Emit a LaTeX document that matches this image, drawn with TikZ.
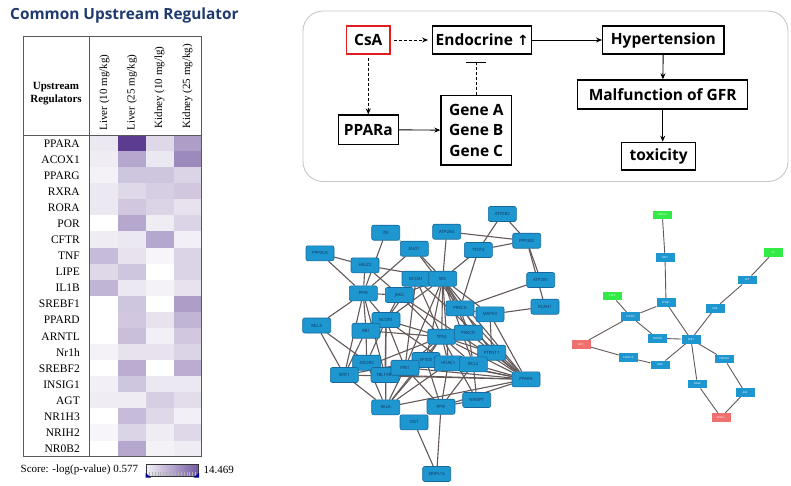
\documentclass[tikz,border=0pt]{standalone}
\usepackage{fontspec}
\setmainfont{Liberation Serif}
\newfontfamily\flowfont{Open Sans}
\newfontfamily\symfont{DejaVu Sans}
\usetikzlibrary{arrows.meta}
\pgfdeclarelayer{background}
\pgfsetlayers{background,main}
\definecolor{hmp}{RGB}{92,60,145}
\definecolor{titleblue}{RGB}{31,58,110}
\definecolor{nfill}{RGB}{30,150,208}
\definecolor{nborder}{RGB}{22,105,155}
\definecolor{ntext}{RGB}{20,50,90}
\definecolor{edgec}{RGB}{100,88,88}
\definecolor{gnode}{RGB}{50,235,70}
\definecolor{rnode}{RGB}{240,112,112}
\definecolor{csared}{RGB}{225,30,30}
\tikzset{
  rowlab/.style={anchor=east, inner sep=0, font=\fontsize{11.5}{12}\selectfont},
  collab/.style={rotate=90, anchor=west, inner sep=0, font=\fontsize{11}{12}\selectfont},
  flowbox/.style={draw, line width=1.3pt, inner sep=0, align=center, font=\flowfont\bfseries\fontsize{15.5}{20.3}\selectfont},
  flowarrow/.style={line width=0.9pt, -{Stealth[length=6pt,width=5pt]}},
  bn/.style={draw=nborder, fill=nfill, line width=0.6pt, rounded corners=2pt, minimum width=28pt, minimum height=15pt, inner sep=0, font=\flowfont\fontsize{4.3}{5}\selectfont, text=ntext},
  sn/.style={fill=nfill, minimum width=19pt, minimum height=8.5pt, inner sep=0, font=\flowfont\fontsize{2.6}{3}\selectfont, text=white},
  edge/.style={draw=edgec, line width=1.1pt},
}
\begin{document}
\begin{tikzpicture}[x=1pt,y=-1pt]
\useasboundingbox (0,0) rectangle (791,485);
\begin{pgfonlayer}{background}
\fill[white] (0,0) rectangle (791,485);
\end{pgfonlayer}

% ---------------- Heatmap ----------------
\node[anchor=west, inner sep=0, text=titleblue, font=\flowfont\bfseries\fontsize{15.4}{18}\selectfont] (title) at (10,15.5) {Common Upstream Regulator};

\foreach \nm/\a/\b/\c/\d [count=\i from 0] in {
 PPARA/12/100/20/50, ACOX1/10/45/12/60, PPARG/7/30/30/22, RXRA/12/20/25/28,
 RORA/12/28/22/15, POR/0/45/10/22, CFTR/10/12/45/8, TNF/35/15/5/22,
 LIPE/20/30/0/22, IL1B/38/12/7/15, SREBF1/0/30/0/50, PPARD/0/28/15/38,
 ARNTL/0/33/8/28, Nr1h/7/15/15/22, SREBF2/0/42/0/42, INSIG1/8/30/12/12,
 AGT/10/10/25/18, NR1H3/0/35/20/8, NRIH2/5/22/10/20, NR0B2/0/45/7/10} {
  \pgfmathsetmacro\yy{135+\i*16.08}
  \fill[hmp!\a!white] (90,\yy) rectangle ++(28,16.2);
  \fill[hmp!\b!white] (118,\yy) rectangle ++(27.8,16.2);
  \fill[hmp!\c!white] (145.8,\yy) rectangle ++(27.8,16.2);
  \fill[hmp!\d!white] (173.6,\yy) rectangle ++(28.1,16.2);
  \node[rowlab] (r\i) at (80,\yy+8.3) {\nm};
}
\draw[black!65, line width=0.8pt] (23,36.7) rectangle (201.7,456.7);
\draw[black!65, line width=0.8pt] (23,135) -- (201.7,135);
\draw[black!65, line width=0.8pt] (89.5,36.7) -- (89.5,456.7);
\node[align=center, inner sep=0, font=\bfseries\fontsize{11}{13}\selectfont] (hdr) at (56,94) {Upstream\\Regulators};
\node[collab] (c1) at (104.5,130.5) {Liver (10 mg/kg)};
\node[collab] (c2) at (132,130.5) {Liver (25 mg/kg)};
\node[collab] (c3) at (159.5,128.5) {Kidney (10 mg/lg)};
\node[collab] (c4) at (187.5,128.5) {Kidney (25 mg/kg)};

% legend
\node[anchor=west, inner sep=0, font=\fontsize{11}{12}\selectfont] (score) at (20.5,470) {Score: -log(p-value) 0.577};
\shade[left color=hmp!8!white, right color=hmp!85!white] (146.5,464) rectangle (198,476.5);
\draw[black!80, line width=0.8pt] (146.5,464) rectangle (198,476.5);
\foreach \k in {0,...,16} { \draw[white!70!black, line width=0.4pt] (149+\k*2.9,472) -- (149+\k*2.9,476); }
\fill[blue!60!black] (145.5,477.5) -- (151,477.5) -- (145.5,473) -- cycle;
\fill[blue!60!black] (199,477.5) -- (193.5,477.5) -- (199,473) -- cycle;
\node[anchor=west, inner sep=0, font=\fontsize{11}{12}\selectfont] (maxv) at (203.5,470) {14.469};

% ---------------- Flowchart ----------------
\draw[black!22, line width=0.9pt, rounded corners=20pt] (303,11) rectangle (788,181.5);
\node[flowbox, draw=csared, minimum width=43.3pt, minimum height=28pt] (csa) at (368.3,40) {CsA};
\node[flowbox, minimum width=99pt, minimum height=28pt] (endo) at (482.2,40) {Endocrine {\symfont\fontsize{14}{16}\selectfont ↑}};
\node[flowbox, minimum width=121.3pt, minimum height=28pt] (hyp) at (663.3,40) {Hypertension};
\node[flowbox, minimum width=170pt, minimum height=29pt] (malf) at (662.7,94.5) {Malfunction of GFR};
\node[flowbox, minimum width=74pt, minimum height=27.7pt] (tox) at (658.7,156.2) {toxicity};
\node[flowbox, minimum width=60pt, minimum height=29.3pt] (ppar) at (368.3,129.7) {PPARa};
\node[flowbox, minimum width=70.7pt, minimum height=69.3pt] (gene) at (476.3,130.3) {Gene A\\Gene B\\Gene C};

\draw[flowarrow, dashed, dash pattern=on 3pt off 2pt, shorten <=3pt, shorten >=4pt] (csa) -- (endo);
\draw[flowarrow, dashed, dash pattern=on 3pt off 2pt, shorten <=3pt] (csa) -- (ppar);
\draw[flowarrow] (ppar) -- (gene);
\draw[line width=0.9pt, dashed, dash pattern=on 3pt off 2pt, -{Bar[width=20pt,line width=1pt]}, shorten >=7.5pt] (gene.north) -- (gene.north |- endo.south);
\draw[flowarrow] (endo) -- (hyp);
\draw[flowarrow] (hyp) -- (malf);
\draw[flowarrow] (malf.south) -- (malf.south |- tox.north);

% ---------------- Left network ----------------
\foreach \id/\lab/\x/\y in {
 atpbb/ATP2B2/502.3/214, itk/ITK/385.7/232.7, atpbd/ATP2B4/446.7/231.7,
 ppp3r/PPP3R2/526.7/240.7, eno/ENO1/414.3/248.7, tfcp/TFCP2/478.3/250,
 ppp3c/PPP3CA/320/253.3, helz/HELZ2/365/265.3, ncoa/NCOA1/416/278.7,
 src/SRC/442.7/278.7, atpba/ATP2B1/540.7/280, ppia/PPIA/363.3/293.3,
 jak/JAK2/399.3/295, prkca/PRKCA/460/308.3, mapk/MAPK3/490/314.3,
 rcan/RCAN1/545/306.7, mll/MLL5/316.7/325.5, ncor/NCOR1/386/320,
 rb/RB1/366/330.7, tp/TP53/441.7/336.7, prkcd/PRKCD/468.3/332.7,
 ptpn/PTPN11/491.7/352.7, ncorb/NCOR2/366.7/362.7, tbl/TBL1XR1/385/375,
 sirt/SIRT1/344.3/375, ep/EP300/426/360, pin/PIN1/405/367.7,
 hdac/HDAC1/448.3/363.3, bcl/BCL2/473.3/364.3, ppara/PPARA/526/379.3,
 nampt/NAMPT/476.7/400, rela/RELA/385.7/407.3, ppif/PPIF/441/406.7,
 ogt/OGT/414/422.3, mrpl/MRPL14/436.7/474} {
  \node[bn] (\id) at (\x,\y) {\lab};
}
\begin{pgfonlayer}{background}
\foreach \a/\b in {
 itk/eno, itk/ppia, ppp3c/helz, ppp3c/ppia, helz/ppia, helz/jak, helz/src,
 eno/src, eno/ppia, eno/prkca, atpbd/src, atpbd/ppp3r, atpbb/tfcp, atpbb/ppp3r,
 tfcp/ppp3r, tfcp/src, tfcp/prkca, ppp3r/atpba, ppp3r/rcan, atpba/prkca, rcan/mapk,
 src/prkca, src/mapk, src/tp, src/prkcd, src/ptpn, src/ppara, src/bcl, src/hdac,
 src/ep, src/pin, src/ncor, src/jak, ncoa/ncor, ncoa/tp, ncoa/ppara, ncoa/pin,
 ppia/jak, ppia/mll, ppia/rb, ppia/ncor, ppia/sirt, ppia/tbl,
 jak/ncor, jak/tp, jak/ppara, mll/sirt, mll/tbl, rb/ncorb, rb/sirt, rb/tp,
 ncor/ncorb, ncor/tbl, ncor/pin, ncor/tp, ncor/rela, ncor/hdac,
 tp/prkcd, tp/ep, tp/hdac, tp/bcl, tp/ppara, tp/pin, tp/sirt, tp/rela, tp/ptpn,
 prkca/mapk, prkca/ppara, prkca/prkcd, mapk/ppara, mapk/ptpn, prkcd/ppara, prkcd/bcl,
 ptpn/ppara, bcl/ppara, hdac/ppara, pin/ppara, tbl/ppara, sirt/ppara, rela/ppara, ep/ppara,
 ncorb/sirt, ncorb/tbl, ncorb/rela, sirt/rela, sirt/ep,
 pin/rela, pin/ppif, ep/rela, ep/ppif, hdac/ppif, bcl/ppif, bcl/nampt, ppif/nampt,
 ppif/ogt, ppif/mrpl, ogt/mrpl, tp/nampt, ppif/ppara, hdac/rela} {
  \draw[edge] (\a) -- (\b);
}
\end{pgfonlayer}

% ---------------- Right network ----------------
\foreach \id/\lab/\x/\y/\c in {
 rga/SNAP25/662.3/215/gnode, rba/NAT1/665/257.3/nfill, rgb/CS/773.3/252.7/gnode,
 rbb/ZFP/747.3/280/nfill, rgc/CRYZ/612.3/296/gnode, rbc/ETNK1/666/302.7/nfill,
 rbd/CYP2E1/630.7/316.7/nfill, rbe/AGK/715/308.3/nfill, rbf/COMTB/657.3/338.3/nfill,
 rbg/ESR1/691/339.3/nfill, rra/SRC1/581/344.3/rnode, rbh/CDKN1A/628.3/357.7/nfill,
 rbi/NNK/660/365/nfill, rbj/PRKACA/724.3/359/nfill, rbk/DAGK/697.3/384/nfill,
 rbl/ALB/745/392.3/nfill, rrb/INSIG1/721/417.3/rnode} {
  \node[sn, fill=\c] (\id) at (\x,\y) {\lab};
}
\begin{pgfonlayer}{background}
\foreach \a/\b in {rga/rba, rba/rbc, rgb/rbb, rbb/rbe, rbe/rbg, rgc/rbd, rbd/rbc,
 rbd/rbf, rbd/rra, rbc/rbg, rbf/rbg, rra/rbh, rbh/rbi, rbi/rbg, rbg/rbj, rbg/rbk,
 rbj/rbl, rbl/rrb, rbk/rrb} {
  \draw[edge, line width=0.9pt] (\a) -- (\b);
}
\end{pgfonlayer}
\end{tikzpicture}
\end{document}
